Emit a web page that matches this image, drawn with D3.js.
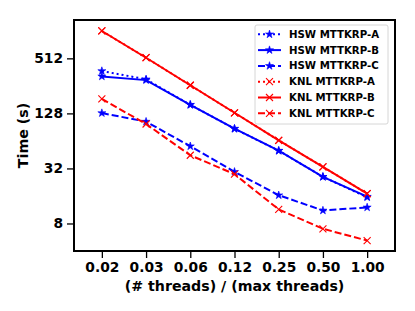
<!DOCTYPE html>
<html>
<head>
<meta charset="utf-8">
<script src="https://cdn.jsdelivr.net/npm/d3@7"></script>
<style>
  body { margin: 0; background: #fff; }
  svg text { font-family: "DejaVu Sans", sans-serif; font-weight: bold; }
</style>
</head>
<body>
<svg id="chart" width="415" height="311"></svg>
<script>
// threads ratio categories
var categories = ["0.02", "0.03", "0.06", "0.12", "0.25", "0.50", "1.00"];
var yTicks = [8, 32, 128, 512];

var hswA = [372, 302, 159, 87, 50, 25.9, 15.5];
var hswB = [325, 296, 159, 87, 50, 25.9, 15.7];
var hswC = [129, 104, 56, 29.4, 16.3, 11.1, 12.0];
var knlA = [1020, 520, 260, 130, 65, 33.3, 17];
var knlB = [1020, 520, 260, 130, 65, 33.3, 17];
var knlC = [184, 98, 44.6, 27.7, 11.4, 7.0, 5.2];

var series = [
  {name: "HSW MTTKRP-A", values: hswA, color: "#0000ff", dash: "2,3", marker: "star"},
  {name: "HSW MTTKRP-B", values: hswB, color: "#0000ff", dash: null, marker: "star"},
  {name: "HSW MTTKRP-C", values: hswC, color: "#0000ff", dash: "7,3", marker: "star"},
  {name: "KNL MTTKRP-A", values: knlA, color: "#ff0000", dash: "2,3", marker: "x"},
  {name: "KNL MTTKRP-B", values: knlB, color: "#ff0000", dash: null, marker: "x"},
  {name: "KNL MTTKRP-C", values: knlC, color: "#ff0000", dash: "7,3", marker: "x"}
];

var margin = {left: 74, right: 20, top: 20, bottom: 60};
var W = 415, H = 311;
var svg = d3.select("#chart");

var x = d3.scalePoint()
  .domain(categories)
  .range([margin.left, W - margin.right])
  .padding(0.63);

var y = d3.scaleLog()
  .base(2)
  .domain([4, 1345])
  .range([H - margin.bottom, margin.top]);

// axes
var xAxis = d3.axisBottom(x).tickSize(7).tickPadding(4);
var yAxis = d3.axisLeft(y).tickValues(yTicks).tickFormat(d3.format("d")).tickSize(7).tickPadding(4);

var gx = svg.append("g")
  .attr("transform", "translate(0," + (H - margin.bottom) + ")")
  .call(xAxis);
var gy = svg.append("g")
  .attr("transform", "translate(" + margin.left + ",0)")
  .call(yAxis);

[gx, gy].forEach(function (g) {
  g.select(".domain").remove();
  g.selectAll(".tick line").attr("stroke", "#000").attr("stroke-width", 1.3);
  g.selectAll(".tick text").attr("fill", "#000").style("font-size", "13.8px");
});

// lines
var line = d3.line()
  .x(function (d, i) { return x(categories[i]); })
  .y(function (d) { return y(d); });

var starPath = d3.symbol().type(d3.symbolStar).size(20)();

function drawMarker(g, m, color) {
  if (m === "star") {
    g.append("path").attr("d", starPath).attr("fill", color).attr("stroke", color).attr("stroke-width", 0.6);
  } else {
    g.append("path").attr("d", "M-3.5,-3.5L3.5,3.5M-3.5,3.5L3.5,-3.5")
      .attr("stroke", color).attr("stroke-width", 1.1).attr("fill", "none");
  }
}

series.forEach(function (s) {
  svg.append("path")
    .datum(s.values)
    .attr("d", line)
    .attr("fill", "none")
    .attr("stroke", s.color)
    .attr("stroke-width", 2)
    .attr("stroke-dasharray", s.dash);
  s.values.forEach(function (v, i) {
    var g = svg.append("g").attr("transform", "translate(" + x(categories[i]) + "," + y(v) + ")");
    drawMarker(g, s.marker, s.color);
  });
});

// frame
svg.append("rect")
  .attr("x", margin.left).attr("y", margin.top)
  .attr("width", W - margin.left - margin.right)
  .attr("height", H - margin.top - margin.bottom)
  .attr("fill", "none").attr("stroke", "#000").attr("stroke-width", 2);

// legend
var lg = svg.append("g").attr("transform", "translate(255,25)");
lg.append("rect").attr("width", 133).attr("height", 99).attr("rx", 2)
  .attr("fill", "#fff").attr("fill-opacity", 0.8).attr("stroke", "#ccc").attr("stroke-width", 0.8);
series.forEach(function (s, i) {
  var yy = 9.3 + i * 15.8;
  lg.append("line").attr("x1", 3).attr("x2", 26).attr("y1", yy).attr("y2", yy)
    .attr("stroke", s.color).attr("stroke-width", 2).attr("stroke-dasharray", s.dash);
  var m = lg.append("g").attr("transform", "translate(14.5," + yy + ")");
  drawMarker(m, s.marker, s.color);
  lg.append("text").attr("x", 34).attr("y", yy).attr("dy", "0.35em")
    .style("font-size", "10.2px").attr("fill", "#000").text(s.name);
});

// axis labels
svg.append("text")
  .attr("x", (margin.left + W - margin.right) / 2)
  .attr("y", 291)
  .attr("text-anchor", "middle")
  .style("font-size", "14.2px")
  .text("(# threads) / (max threads)");

svg.append("text")
  .attr("transform", "translate(28," + ((margin.top + H - margin.bottom) / 2) + ") rotate(-90)")
  .attr("text-anchor", "middle")
  .style("font-size", "14.2px")
  .text("Time (s)");
</script>
</body>
</html>
